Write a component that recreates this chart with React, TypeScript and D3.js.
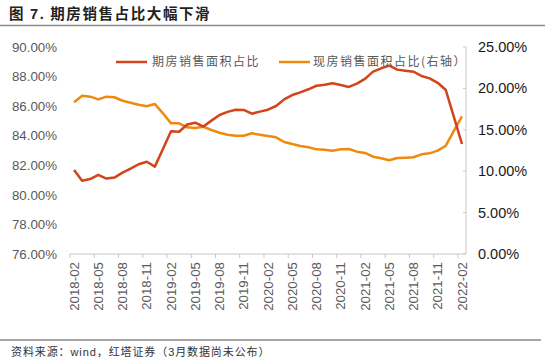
import * as d3 from "d3";

const W = 550;
const H = 364;
const MARGIN = { top: 47, right: 86, bottom: 110, left: 70 };

// 2018-02 .. 2022-02, monthly
const months: string[] = d3
  .timeMonths(new Date(2018, 1, 1), new Date(2022, 2, 1))
  .map((d) => d3.timeFormat("%Y-%m")(d));

// 期房销售面积占比 (left axis, %)
const forwardShare = [
  81.68, 80.96, 81.07, 81.35, 81.1, 81.17, 81.5, 81.77, 82.07, 82.24, 81.91, 83.1,
  84.3, 84.27, 84.76, 84.88, 84.62, 85.02, 85.4, 85.61, 85.76, 85.74, 85.49, 85.63,
  85.76, 86.01, 86.46, 86.75, 86.93, 87.14, 87.38, 87.45, 87.55, 87.43, 87.3, 87.52,
  87.84, 88.33, 88.56, 88.74, 88.47, 88.4, 88.33, 88.04, 87.88, 87.58, 87.09, 85.27,
  83.44,
];

// 现房销售面积占比 (right axis, %)
const spotShare = [
  18.32, 19.12, 19.0, 18.68, 19.0, 18.93, 18.51, 18.27, 18.03, 17.84, 18.12, 16.99,
  15.78, 15.78, 15.3, 15.22, 15.37, 14.98, 14.65, 14.41, 14.29, 14.29, 14.58, 14.41,
  14.25, 14.09, 13.53, 13.29, 13.04, 12.89, 12.64, 12.6, 12.48, 12.64, 12.68, 12.36,
  12.2, 11.75, 11.56, 11.32, 11.59, 11.63, 11.68, 12.04, 12.16, 12.48, 13.08, 14.86,
  16.61,
];

const leftTicks = [76, 78, 80, 82, 84, 86, 88, 90];
const rightTicks = [0, 5, 10, 15, 20, 25];

const RED = "#d2441a";
const ORANGE = "#ee8a0e";
const AXIS = "#c8c8c8";
const LABEL = "#595959";
const FONT = "'Liberation Sans', Arial, sans-serif";
const CJK = "'Noto Sans CJK SC', sans-serif";

export default function App() {
  const x0 = MARGIN.left;
  const x1 = W - MARGIN.right + 2;
  const y0 = MARGIN.top;
  const y1 = H - MARGIN.bottom;

  const xScale = d3.scaleBand<string>().domain(months).range([x0, x1]).padding(0);
  const yLeft = d3.scaleLinear().domain([76, 90]).range([y1, y0]);
  const yRight = d3.scaleLinear().domain([0, 25]).range([y1, y0]);
  const cx = (m: string) => (xScale(m) ?? 0) + xScale.bandwidth() / 2;

  const redLine = d3
    .line<number>()
    .x((_, i) => cx(months[i]))
    .y((d) => yLeft(d))(forwardShare);
  const orangeLine = d3
    .line<number>()
    .x((_, i) => cx(months[i]))
    .y((d) => yRight(d))(spotShare);

  const tickMonths = months.filter((_, i) => i % 3 === 0);

  return (
    <svg
      width={W}
      height={H}
      style={{ position: "absolute", left: 0, top: 0, background: "#fff" }}
    >
      {/* title */}
      <text x={9} y={19} fontFamily={CJK} fontWeight="bold" fontSize={14.5} letterSpacing={1.6} fill="#222">
        图 <tspan fontFamily={FONT}>7.</tspan> 期房销售占比大幅下滑
      </text>
      <line x1={0} x2={545} y1={25.5} y2={25.5} stroke="#8a8a8a" strokeWidth={1.5} />

      {/* left axis labels */}
      {leftTicks.map((t) => (
        <text
          key={t}
          x={57}
          y={yLeft(t)}
          dy="0.35em"
          textAnchor="end"
          fontFamily={FONT}
          fontSize={13.3}
          fill={LABEL}
        >
          {t.toFixed(2)}%
        </text>
      ))}

      {/* right axis */}
      <line x1={x1} x2={x1} y1={y0} y2={y1} stroke={AXIS} />
      {rightTicks.map((t) => (
        <g key={t}>
          <line x1={x1 - 3} x2={x1} y1={yRight(t)} y2={yRight(t)} stroke={AXIS} />
          <text
            x={478}
            y={yRight(t)}
            dy="0.35em"
            fontFamily={FONT}
            fontSize={14.5}
            fill="#1a1a1a"
          >
            {t.toFixed(2)}%
          </text>
        </g>
      ))}

      {/* x axis */}
      <line x1={x0} x2={x1} y1={y1} y2={y1} stroke={AXIS} />
      {tickMonths.map((m) => (
        <g key={m}>
          <line
            x1={xScale(m)}
            x2={xScale(m)}
            y1={y1}
            y2={y1 + 4}
            stroke={AXIS}
          />
          <text
            transform={`translate(${cx(m)},${y1 + 8}) rotate(-90)`}
            dy="0.35em"
            textAnchor="end"
            fontFamily={FONT}
            fontSize={13.3}
            fill={LABEL}
          >
            {m}
          </text>
        </g>
      ))}

      {/* series */}
      <path d={orangeLine ?? ""} fill="none" stroke={ORANGE} strokeWidth={2.5} strokeLinejoin="round" />
      <path d={redLine ?? ""} fill="none" stroke={RED} strokeWidth={2.5} strokeLinejoin="round" />

      {/* legend */}
      <line x1={116} x2={147} y1={62} y2={62} stroke={RED} strokeWidth={2.5} />
      <text x={152} y={62} dy="0.35em" fontFamily={CJK} fontSize={12} letterSpacing={1.5} fill={LABEL}>
        期房销售面积占比
      </text>
      <line x1={279} x2={310} y1={62} y2={62} stroke={ORANGE} strokeWidth={2.5} />
      <text x={313} y={62} dy="0.35em" fontFamily={CJK} fontSize={12} letterSpacing={1.5} fill={LABEL}>
        现房销售面积占比(右轴）
      </text>

      {/* source */}
      <line x1={0} x2={541} y1={340} y2={340} stroke="#8a8a8a" strokeWidth={1.5} />
      <text x={11} y={352} dy="0.35em" fontFamily={CJK} fontSize={11} letterSpacing={0.9} fill="#333">
        资料来源：<tspan fontFamily={FONT}>wind</tspan>，红塔证券（<tspan fontFamily={FONT}>3</tspan>月数据尚未公布）
      </text>
    </svg>
  );
}
